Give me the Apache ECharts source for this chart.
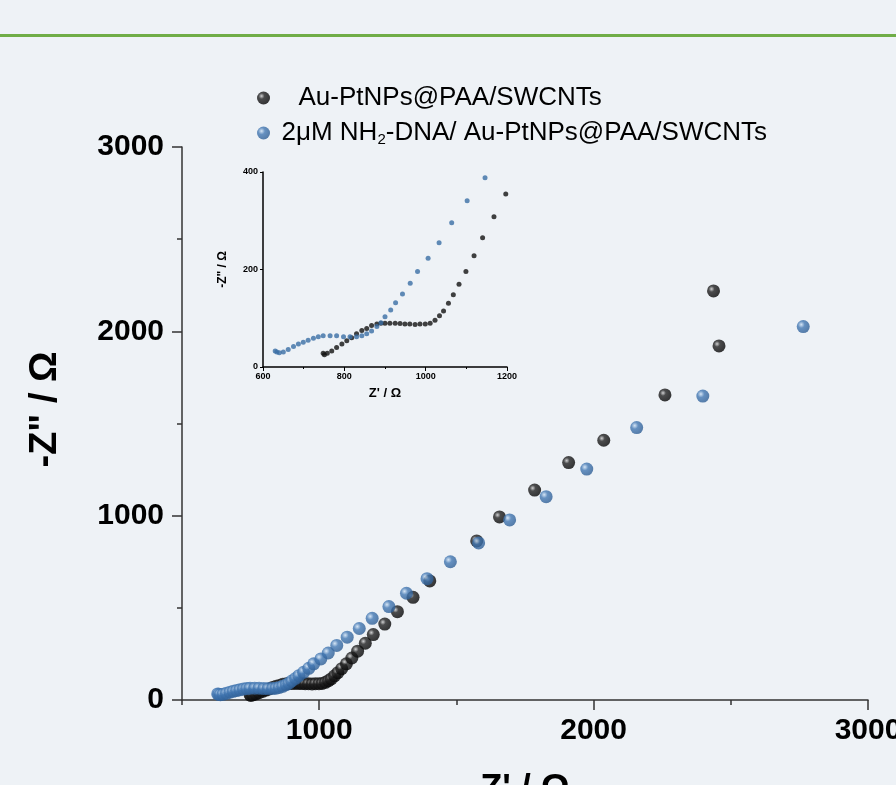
<!DOCTYPE html>
<html>
<head>
<meta charset="utf-8">
<script src="https://cdn.jsdelivr.net/npm/echarts@6.0.0/dist/echarts.min.js"></script>
<style>
  html, body { margin: 0; padding: 0; background: #eef2f6; }
  #chart { width: 896px; height: 785px; }
</style>
</head>
<body>
<div id="chart"></div>
<script>
// 图例名称
const nameBare = 'Au-PtNPs@PAA/SWCNTs';
const nameDna = '2μM NH2-DNA/ Au-PtNPs@PAA/SWCNTs';

// Au-PtNPs@PAA/SWCNTs : Z' (Ω), -Z'' (Ω)
const bareZre = [748, 751, 758, 769, 781, 794, 806, 818, 830, 843, 855, 867, 880, 890, 900, 912, 925, 937, 949, 961, 974, 986, 999, 1011, 1023, 1034, 1044, 1056, 1068, 1082, 1099, 1119, 1140, 1168, 1197, 1239, 1285, 1342, 1403, 1574, 1657, 1785, 1909, 2037, 2260, 2457, 2437];
const bareZim = [28, 25, 28, 33, 40, 47, 54, 60, 68, 75, 79, 85, 88, 90, 90, 90, 90, 89, 88, 88, 87, 88, 88, 90, 96, 105, 115, 131, 148, 170, 196, 228, 265, 308, 355, 412, 479, 557, 646, 863, 993, 1139, 1288, 1409, 1655, 1921, 2219];

// 2μM NH2-DNA/ Au-PtNPs@PAA/SWCNTs
const dnaZre = [630, 634, 640, 650, 662, 675, 687, 699, 711, 724, 736, 748, 765, 781, 798, 814, 830, 843, 855, 867, 880, 890, 900, 914, 926, 943, 962, 980, 1006, 1033, 1064, 1102, 1146, 1193, 1254, 1318, 1393, 1478, 1581, 1694, 1827, 1975, 2157, 2398, 2764];
const dnaZim = [33, 31, 29, 31, 36, 42, 47, 51, 55, 59, 62, 64, 64, 64, 62, 62, 62, 64, 68, 74, 83, 91, 103, 117, 132, 150, 172, 196, 223, 255, 296, 341, 388, 443, 507, 579, 658, 750, 852, 977, 1103, 1253, 1478, 1649, 2026];

// 刻度
const mainXMajor = [1000, 2000, 3000];
const mainXMinor = [500, 1500, 2500];

const FONT = 'Liberation Sans, Arial, sans-serif';
const AXIS_COLOR = '#333';

function pairs(xs, ys) {
  return xs.map((x, i) => [x, ys[i]]);
}

// 不要千位分隔符
function plain(v) {
  return String(v);
}

const blackBall = {
  type: 'radial', x: 0.35, y: 0.35, r: 0.75,
  colorStops: [
    { offset: 0, color: '#c8c8c8' },
    { offset: 0.3, color: '#222' },
    { offset: 1, color: '#000000' }
  ]
};
const blueBall = {
  type: 'radial', x: 0.35, y: 0.35, r: 0.75,
  colorStops: [
    { offset: 0, color: '#cfe2f5' },
    { offset: 0.35, color: '#4378b3' },
    { offset: 1, color: '#2b5a90' }
  ]
};

const bareData = pairs(bareZre, bareZim);
const dnaData = pairs(dnaZre, dnaZim);

const chart = echarts.init(document.getElementById('chart'));

const option = {
  backgroundColor: '#eef2f6',
  animation: false,
  textStyle: { fontFamily: FONT },
  graphic: [
    { type: 'rect', shape: { x: 0, y: 34, width: 896, height: 3 }, style: { fill: '#70ad47' }, silent: true }
  ],
  legend: {
    orient: 'vertical',
    left: 252,
    top: 80,
    itemWidth: 26,
    itemHeight: 13,
    itemGap: 9,
    icon: 'circle',
    data: [nameBare, nameDna],
    formatter: function (name) {
      if (name === nameDna) {
        return '2μM NH{sub|2}-DNA/ Au-PtNPs@PAA/SWCNTs';
      }
      return '{pad|}' + name;
    },
    textStyle: {
      fontSize: 26,
      color: '#000',
      fontFamily: FONT,
      rich: {
        sub: { fontSize: 15, fontFamily: FONT, color: '#000', padding: [14, 0, 0, 0] },
        pad: { width: 17 }
      }
    }
  },
  grid: [
    { left: 182, top: 147, width: 686, height: 553, outerBoundsMode: 'none', containLabel: false },
    { left: 263, top: 172, width: 244, height: 195, outerBoundsMode: 'none', containLabel: false }
  ],
  xAxis: [
    {
      gridIndex: 0,
      type: 'value',
      position: 'bottom',
      min: 500,
      max: 3000,
      axisLine: { show: true, lineStyle: { color: AXIS_COLOR, width: 1.5 } },
      axisTick: { show: true, customValues: mainXMajor, length: 10, lineStyle: { color: AXIS_COLOR, width: 1.5 } },
      axisLabel: { customValues: mainXMajor, formatter: plain, fontSize: 30, fontWeight: 'bold', color: '#000', margin: 16 },
      splitLine: { show: false },
      name: "Z' / Ω",
      nameLocation: 'middle',
      nameGap: 72,
      nameTextStyle: { fontSize: 36, fontWeight: 'bold', color: '#000' }
    },
    {
      // 次刻度
      gridIndex: 0,
      type: 'value',
      position: 'bottom',
      min: 500,
      max: 3000,
      axisLine: { show: false },
      axisTick: { show: true, customValues: mainXMinor, length: 5, lineStyle: { color: AXIS_COLOR, width: 1.5 } },
      axisLabel: { show: false },
      splitLine: { show: false }
    },
    {
      gridIndex: 1,
      type: 'value',
      position: 'bottom',
      min: 600,
      max: 1200,
      interval: 200,
      axisLine: { show: true, lineStyle: { color: '#000', width: 1.5 } },
      axisTick: { length: 4, lineStyle: { color: '#000' } },
      minorTick: { show: true, splitNumber: 2, length: 2, lineStyle: { color: '#000' } },
      axisLabel: { formatter: plain, fontSize: 9, fontWeight: 'bold', color: '#000', margin: 5 },
      splitLine: { show: false },
      name: "Z' / Ω",
      nameLocation: 'middle',
      nameGap: 20,
      nameTextStyle: { fontSize: 13, fontWeight: 'bold', color: '#000' }
    }
  ],
  yAxis: [
    {
      gridIndex: 0,
      type: 'value',
      position: 'left',
      min: 0,
      max: 3000,
      interval: 1000,
      axisLine: { show: true, lineStyle: { color: AXIS_COLOR, width: 1.5 } },
      axisTick: { show: true, length: 10, lineStyle: { color: AXIS_COLOR, width: 1.5 } },
      minorTick: { show: true, splitNumber: 2, length: 5, lineStyle: { color: AXIS_COLOR, width: 1.5 } },
      axisLabel: { formatter: plain, fontSize: 30, fontWeight: 'bold', color: '#000', margin: 18 },
      splitLine: { show: false },
      name: '-Z" / Ω',
      nameLocation: 'middle',
      nameGap: 117,
      nameRotate: 90,
      nameTextStyle: { fontSize: 38, fontWeight: 'bold', color: '#000', padding: [0, 0, 0, 28] }
    },
    {
      gridIndex: 1,
      type: 'value',
      position: 'left',
      min: 0,
      max: 400,
      interval: 200,
      axisLine: { show: true, lineStyle: { color: '#000', width: 1.5 } },
      axisTick: { length: 3, lineStyle: { color: '#000' } },
      axisLabel: { formatter: plain, fontSize: 9, fontWeight: 'bold', color: '#000', margin: 5 },
      splitLine: { show: false },
      name: '-Z" / Ω',
      nameLocation: 'middle',
      nameGap: 34,
      nameRotate: 90,
      nameTextStyle: { fontSize: 12, fontWeight: 'bold', color: '#000' }
    }
  ],
  series: [
    {
      name: nameBare,
      type: 'scatter',
      xAxisIndex: 0,
      yAxisIndex: 0,
      data: bareData,
      symbolSize: 13,
      itemStyle: { color: blackBall }
    },
    {
      name: nameDna,
      type: 'scatter',
      xAxisIndex: 0,
      yAxisIndex: 0,
      data: dnaData,
      symbolSize: 13,
      itemStyle: { color: blueBall }
    },
    {
      name: nameBare,
      type: 'scatter',
      xAxisIndex: 2,
      yAxisIndex: 1,
      data: bareData,
      symbolSize: 5,
      clip: true,
      itemStyle: { color: '#111' }
    },
    {
      name: nameDna,
      type: 'scatter',
      xAxisIndex: 2,
      yAxisIndex: 1,
      data: dnaData,
      symbolSize: 5,
      clip: true,
      itemStyle: { color: '#3a6ea5' }
    }
  ]
};

chart.setOption(option);
</script>
</body>
</html>
